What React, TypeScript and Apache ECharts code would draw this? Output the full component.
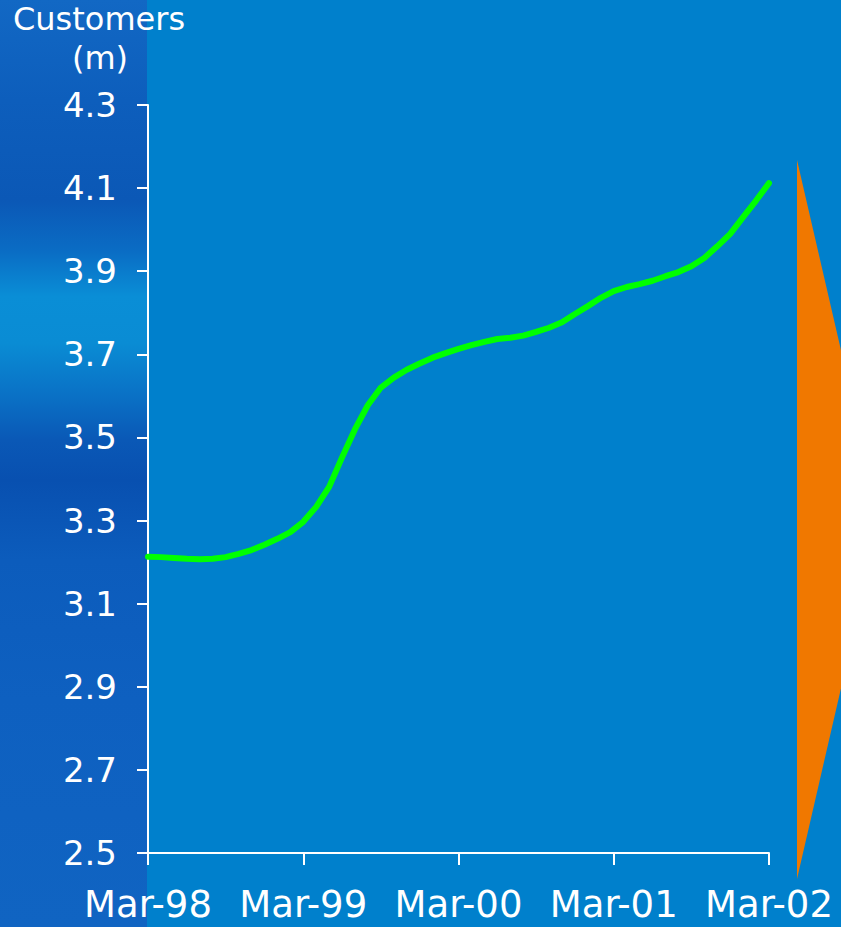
import React, { useEffect, useRef } from "react";
import * as echarts from "echarts";

const months = [
  "Mar-98","Apr-98","May-98","Jun-98","Jul-98","Aug-98","Sep-98","Oct-98","Nov-98","Dec-98","Jan-99","Feb-99",
  "Mar-99","Apr-99","May-99","Jun-99","Jul-99","Aug-99","Sep-99","Oct-99","Nov-99","Dec-99","Jan-00","Feb-00",
  "Mar-00","Apr-00","May-00","Jun-00","Jul-00","Aug-00","Sep-00","Oct-00","Nov-00","Dec-00","Jan-01","Feb-01",
  "Mar-01","Apr-01","May-01","Jun-01","Jul-01","Aug-01","Sep-01","Oct-01","Nov-01","Dec-01","Jan-02","Feb-02",
  "Mar-02",
];

const customers = [
  3.213, 3.212, 3.210, 3.208, 3.207, 3.208, 3.212, 3.220, 3.229, 3.242, 3.256, 3.272,
  3.297, 3.333, 3.381, 3.452, 3.520, 3.578, 3.620, 3.644, 3.663, 3.678, 3.692, 3.703,
  3.713, 3.722, 3.730, 3.737, 3.740, 3.745, 3.754, 3.764, 3.777, 3.797, 3.816, 3.836,
  3.852, 3.862, 3.869, 3.877, 3.888, 3.898, 3.912, 3.932, 3.960, 3.990, 4.030, 4.070,
  4.112,
];

const yMin = 2.5;
const yMax = 4.3;
const yStep = 0.2;
const titleLines = ["Customers", "(m)"];

export default function App() {
  const ref = useRef<HTMLDivElement>(null);
  useEffect(() => {
    document.body.style.margin = "0";
    const chart = echarts.init(ref.current!, undefined, { renderer: "svg" });
    const font = "'DejaVu Sans', Verdana, sans-serif";
    chart.setOption({
      animation: false,
      backgroundColor: "#0080CC",
      graphic: [
        {
          type: "rect",
          z: -100,
          silent: true,
          shape: { x: 0, y: 0, width: 147, height: 927 },
          style: {
            fill: new echarts.graphic.LinearGradient(0, 0, 0, 1, [
              { offset: 0, color: "#1268C4" },
              { offset: 0.108, color: "#0D5EBC" },
              { offset: 0.216, color: "#0B58B6" },
              { offset: 0.27, color: "#0A6CC4" },
              { offset: 0.32, color: "#0A8ED6" },
              { offset: 0.37, color: "#0A8CD4" },
              { offset: 0.425, color: "#0A72C6" },
              { offset: 0.475, color: "#0A58B6" },
              { offset: 0.518, color: "#0850B0" },
              { offset: 0.604, color: "#0C5CBC" },
              { offset: 0.755, color: "#0E60C0" },
              { offset: 1, color: "#1064C2" },
            ]),
          },
        },
        {
          type: "polygon",
          z: -50,
          silent: true,
          shape: { points: [[797, 160], [880, 519], [797, 879]] },
          style: { fill: "#F07800" },
        },
        {
          type: "text",
          x: 99,
          y: 35,
          style: {
            text: titleLines[0],
            fill: "#FFFFFF",
            font: `32px ${font}`,
            textAlign: "center",
            textVerticalAlign: "bottom",
          },
        },
        {
          type: "text",
          x: 100,
          y: 74,
          style: {
            text: titleLines[1],
            fill: "#FFFFFF",
            font: `32px ${font}`,
            textAlign: "center",
            textVerticalAlign: "bottom",
          },
        },
      ],
      grid: { left: 148, right: 72, top: 105, bottom: 74, containLabel: false },
      xAxis: {
        type: "category",
        data: months,
        boundaryGap: false,
        axisLine: { lineStyle: { color: "#FFFFFF", width: 2 } },
        axisTick: { show: true, interval: 11, length: 12, lineStyle: { color: "#FFFFFF", width: 2 } },
        axisLabel: {
          interval: 11,
          color: "#FFFFFF",
          fontFamily: font,
          fontSize: 37,
          lineHeight: 30,
          margin: 36,
        },
        splitLine: { show: false },
      },
      yAxis: {
        type: "value",
        min: yMin,
        max: yMax,
        interval: yStep,
        axisLine: { show: true, lineStyle: { color: "#FFFFFF", width: 2 } },
        axisTick: { show: true, length: 11, lineStyle: { color: "#FFFFFF", width: 2 } },
        axisLabel: {
          color: "#FFFFFF",
          fontFamily: font,
          fontSize: 34,
          margin: 31,
          formatter: (v: number) => v.toFixed(1),
        },
        splitLine: { show: false },
      },
      series: [
        {
          type: "line",
          data: customers,
          showSymbol: false,
          symbol: "none",
          lineStyle: { color: "#00FF00", width: 6, cap: "round", join: "round" },
          z: 5,
        },
      ],
    });
    return () => chart.dispose();
  }, []);
  return <div ref={ref} style={{ width: 841, height: 927 }} />;
}
